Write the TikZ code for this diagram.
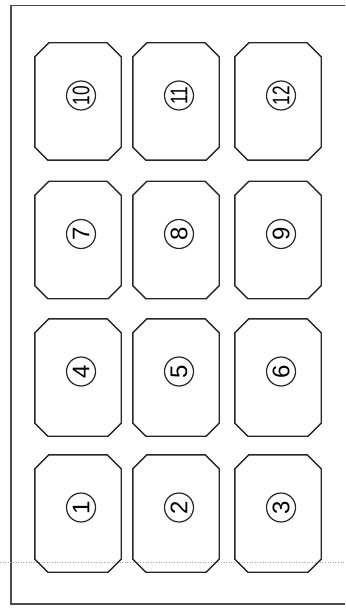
\documentclass[tikz,border=0pt]{standalone}
\usepackage{fontspec}
\usepackage{graphicx}
\setmainfont{Liberation Sans}
\newcommand{\circnum}[1]{\ifnum#1>9 \scalebox{0.72}[1]{#1}\else #1\fi}
\begin{document}
\begin{tikzpicture}[x=1pt,y=-1pt,
  cell/.style={rectangle,minimum width=86pt,minimum height=117pt,inner sep=0pt},
  cellline/.style={line width=1.4pt,draw=black!85,line join=round},
  num/.style={circle,draw=black!85,line width=1.2pt,minimum size=29pt,inner sep=0pt,
    font=\fontsize{24}{24}\selectfont,rotate=90},
  frameline/.style={line width=1.2pt,draw=black!70},
  scanline/.style={line width=0.6pt,draw=black!35,dotted}]
\useasboundingbox (0,0) rectangle (345,609);
\draw[frameline] (345,5.5) -- (11,5.5) -- (11,604) -- (345,604);
\draw[scanline] (0,562) -- (345,562);
\foreach \lab/\cx/\cy in {10/78/101.5,11/176/101.5,12/278/101.5,
                          7/78/240,8/176/240,9/278/240,
                          4/78/377.5,5/176/377.5,6/278/377.5,
                          1/78/513.5,2/176/513.5,3/278/513.5}{
  \node[cell] (b\lab) at (\cx,\cy) {};
  \draw[cellline] ([xshift=14pt]b\lab.north west) -- ([xshift=-14pt]b\lab.north east)
    -- ([yshift=-14pt]b\lab.north east) -- ([yshift=13pt]b\lab.south east)
    -- ([xshift=-13pt]b\lab.south east) -- ([xshift=13pt]b\lab.south west)
    -- ([yshift=13pt]b\lab.south west) -- ([yshift=-14pt]b\lab.north west) -- cycle;
  \node[num] (n\lab) at ([xshift=3pt,yshift=6pt]b\lab.center) {\circnum{\lab}};
}
\end{tikzpicture}
\end{document}
